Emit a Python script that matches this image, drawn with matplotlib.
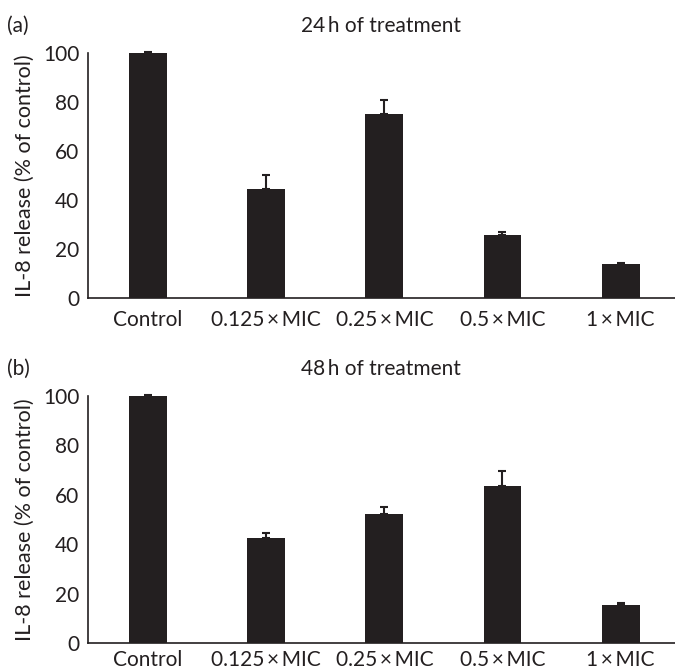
import numpy as np
import matplotlib.pyplot as plt

plt.rcParams['font.family'] = ['Lato', 'DejaVu Sans']

grupos = ['Control', '0.125\u2009×\u2009MIC', '0.25\u2009×\u2009MIC',
          '0.5\u2009×\u2009MIC', '1\u2009×\u2009MIC']
valores24 = [100, 44.5, 75.1, 25.7, 13.9]
errores24 = [0.3, 5.7, 5.7, 1.4, 0.5]
valores48 = [100, 42.5, 52.3, 63.6, 15.5]
errores48 = [0.3, 2.2, 2.7, 6.2, 0.7]
titulos = ['24\u2009h of treatment', '48\u2009h of treatment']
letras = ['(a)', '(b)']

color = '#231f20'
fig = plt.figure(figsize=(6.75, 6.71), dpi=100)
cajas = [[0.130, 0.556, 0.870, 0.365], [0.130, 0.041, 0.870, 0.369]]
separaciones = [9, 5]
datos = [(valores24, errores24), (valores48, errores48)]

x = np.arange(len(grupos))
for caja, sep, (val, err), tit, letra in zip(cajas, separaciones, datos,
                                             titulos, letras):
    ax = fig.add_axes(caja)
    ax.bar(x, val, width=0.32, color=color, zorder=2)
    ax.errorbar(x, val, yerr=[np.zeros(len(err)), err], fmt='none',
                ecolor=color, elinewidth=1.5, capsize=3, capthick=1.5,
                clip_on=False, zorder=3)
    ax.set_xlim(-0.51, 4.46)
    ax.set_ylim(0, 100)
    ax.set_yticks([0, 20, 40, 60, 80, 100])
    ax.set_xticks(x)
    ax.set_xticklabels(grupos)
    ax.tick_params(length=0, labelsize=15, labelcolor=color)
    ax.tick_params(axis='x', pad=sep)
    ax.tick_params(axis='y', pad=6)
    for lado in ['top', 'right']:
        ax.spines[lado].set_visible(False)
    for lado in ['left', 'bottom']:
        ax.spines[lado].set_color(color)
        ax.spines[lado].set_linewidth(1.2)
    ax.set_ylabel('IL-8 release (% of control)', fontsize=15.5, color=color,
                  labelpad=6)
    ax.set_title(tit, fontsize=15, color=color, pad=15, x=0.5)
    ax.text(-0.137, 1.07, letra, transform=ax.transAxes, fontsize=15,
            color=color, va='bottom', ha='left')

fig.savefig('out.png', dpi=100)
